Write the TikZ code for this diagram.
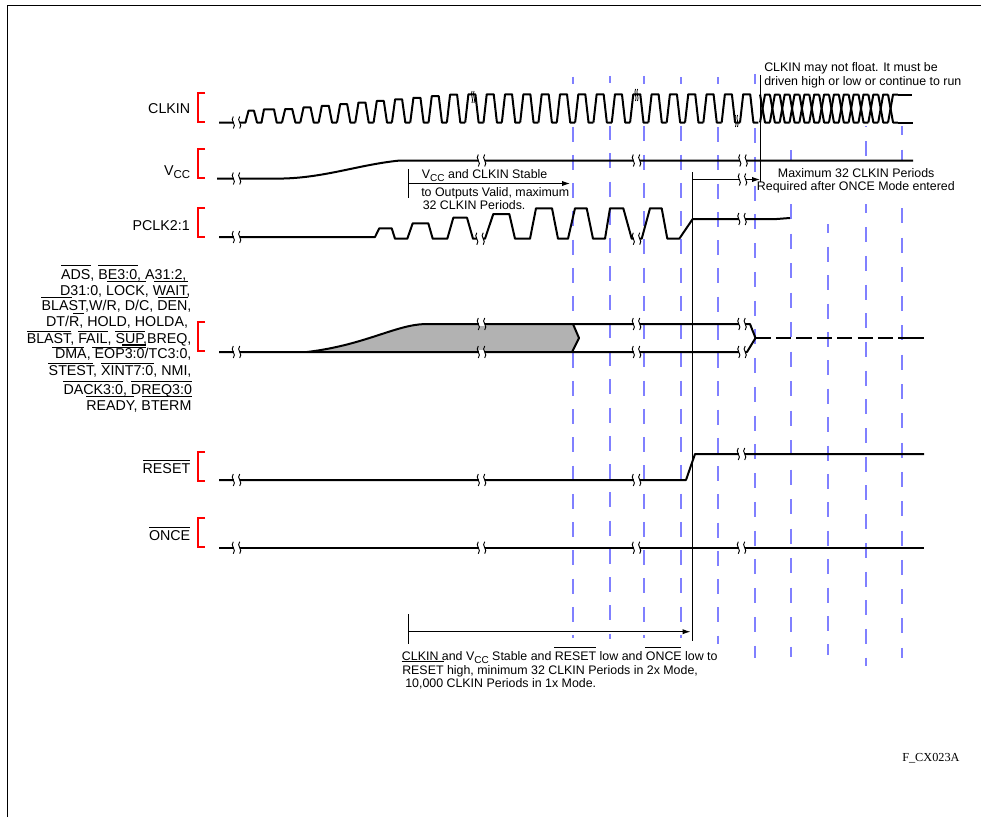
\documentclass[tikz,border=0pt]{standalone}
\usepackage{fontspec}
\usetikzlibrary{arrows.meta}
\setmainfont{Liberation Sans}
\newfontfamily\figfont{Liberation Serif}
\definecolor{gridblue}{RGB}{128,128,255}
\definecolor{busgray}{RGB}{178,178,178}
\newcommand{\tbreak}[2]{
    \fill[white] (#1-3,#2-2) rectangle (#1+3,#2+2);
    \draw[line width=.7pt] (#1-3.2,#2-6) .. controls (#1-7,#2-2) and (#1+.6,#2+2) .. (#1-3.2,#2+6);
    \draw[line width=.7pt] (#1+3.2,#2-6) .. controls (#1-.6,#2-2) and (#1+7,#2+2) .. (#1+3.2,#2+6);
}
\newcommand{\wbreak}[2]{
    \draw[line width=.6pt] (#1-1,#2-6) .. controls (#1-3,#2-2) and (#1+1,#2+2) .. (#1-1,#2+6);
    \draw[line width=.6pt] (#1+1,#2-6) .. controls (#1-1,#2-2) and (#1+3,#2+2) .. (#1+1,#2+6);
}
\begin{document}
\begin{tikzpicture}[x=.75pt,y=-.75pt]
\tikzstyle{trace}=[line width=1.5pt,line join=round]
\tikzstyle{hairline}=[line width=.75pt]
\tikzstyle{tip}=[-{Latex[length=6pt,width=4pt]}]
\tikzstyle{brack}=[red,line width=1.3pt]
\tikzstyle{sig}=[anchor=base east,inner sep=0pt,font=\fontsize{10.7}{12}\selectfont]
\tikzstyle{note}=[anchor=base west,inner sep=0pt,font=\fontsize{9.3}{11}\selectfont]
    \useasboundingbox (0,0) rectangle (981,817);
    \draw[line width=.75pt] (7.5,817) -- (7.5,5.5) -- (981,5.5);

    \foreach \xx/\ya/\yb/\yr/\per in {572.7/76.7/638/126.7/28.25,610/76/639/125/28.25,644/76/638/126.3/28.25,681/77.3/638/126.3/28.25,718/77.3/644/127/28.25,755/74/657.7/128/28.75,790.7/150/656.7/204/29.5,827.7/224/655/246.7/28.4,866/126/666/141/28.7,902/126/658/120.3/29.3}{
        \pgfmathsetmacro\ph{0.75*Mod(\ya-\yr,\per)}
        \pgfmathsetmacro\gp{0.75*(\per-15)}
        \draw[gridblue,line width=1.25pt,dash pattern=on 11.25pt off \gp pt,dash phase=\ph pt] (\xx,\ya) -- (\xx,\yb);
    }
    \fill[white] (216,84) rectangle (915,126);
    \fill[white] (760,161) rectangle (960,204);

    \foreach \yb in {122,178.3,237,350.7,481,547}{
        \draw[brack] (205,\yb-29) -- (198,\yb-29) -- (198,\yb) -- (205,\yb);
    }

    \node[sig] (clkin) at (190.5,113.3) {CLKIN};
    \node[sig] (vcc) at (190.5,175) {V\raisebox{-.25em}{\fontsize{8.6}{10}\selectfont CC}};
    \node[sig] (pclk) at (190,230) {PCLK2:1};
    \node[sig] (reset) at (190.5,473) {RESET};
    \node[sig] (once) at (190.5,540) {ONCE};
    \foreach \xe/\yy/\txt in {186.7/279/{ADS, BE3:0, A31:2,},190.7/295.3/{D31:0, LOCK, WAIT,},191.7/310.7/{BLAST,W/R, D/C, DEN,},188.3/326.7/{DT/R, HOLD, HOLDA,},191.7/343.3/{BLAST, FAIL, SUP,BREQ,},191.7/358.3/{DMA, EOP3:0/TC3:0,},191.7/375.7/{STEST, XINT7:0, NMI,},192.3/394.3/{DACK3:0, DREQ3:0},191.7/410/{READY, BTERM}}{
        \node[sig,name=bus\yy] at (\xe,\yy) {\txt};
    }
    \foreach \xa/\xb/\yy in {61/91/265,98/138/265,107/146/281,154/188/281,41/72/297.3,158/188/297.3,73/84/313.3,27/71/331,78/108/331,115/145/331,52/84/347,92/146/347,48/93/363,101/154/363,63/123/381,131/192/381,86/134/396.7,142/192/396.7,143/190/460.5,149/190/527,554/596/647.7,645/681/647.7,401.7/444/661.3}{
        \draw[line width=.6pt] (\xa,\yy) -- (\xb,\yy);
    }
    \draw[line width=1pt] (122,345) -- (146,345);

    \draw[trace] (219,122.5) -- (245.5,122.5) -- (248.5,110.7) -- (254,110.7) -- (257,122.5) -- (261.5,122.5) -- (264,109.3) -- (274,109.3) -- (276.7,122.5) -- (282,122.5);
    \foreach \k in {0,...,25}{
        \pgfmathsetmacro\r{282+18.32*\k}
        \pgfmathsetmacro\yt{max(94.3,109-(\r-282)*0.0875)}
        \draw[trace] (\r,122.5) -- (\r+3.2,\yt) -- (\r+10.2,\yt) -- (\r+13.4,122.5) -- (\r+18.32,122.5);
    }
    \foreach \k in {0,...,13}{
        \pgfmathsetmacro\r{760+9.85*\k}
        \draw[trace] (\r,94.5) -- (\r+5,122.5) -- (\r+9.85,122.5);
        \draw[trace] (\r,122.5) -- (\r+5,94.5) -- (\r+9.85,94.5);
    }
    \draw[trace] (898,94.5) -- (912,94.5);
    \draw[trace] (898,122.5) -- (913,122.5);
    \tbreak{236.5}{122.5}
    \wbreak{473}{97}
    \wbreak{636.5}{95}
    \wbreak{736.5}{121}

    \draw[trace] (217,178.5) -- (270,178.5) .. controls (320,180) and (355,165) .. (400,160.5) -- (913,160.5);
    \tbreak{236.5}{178.5}
    \tbreak{481.5}{160.5}
    \tbreak{636.5}{160.5}
    \tbreak{743}{160.5}

    \draw[trace] (219,237) -- (375,237) -- (379.3,228.3) -- (391.7,228.3) -- (395,238.7) -- (407.3,238.7) -- (412.7,223.3) -- (428.3,223.3) -- (432.7,238.7) -- (447.3,238.7) -- (453.3,217.7) -- (467,217.7) -- (473,238.7) -- (485,238.7) -- (493.3,214) -- (509.3,214) -- (515,238.7) -- (530,238.7) -- (536,208.3) -- (552,208.3) -- (558,238.7) -- (568,238.7) -- (575,208.3) -- (586.7,208.3) -- (593,238.7) -- (605,238.7) -- (610,208.3) -- (623.3,208.3) -- (631.7,238.7) -- (641.7,238.7) -- (650,208.3) -- (661.7,208.3) -- (667.3,238.7) -- (679.3,238.7) -- (692.7,219) -- (776.7,219) -- (790,218);
    \tbreak{236.5}{237}
    \tbreak{480}{238.7}
    \tbreak{636.5}{238.7}
    \tbreak{742}{219}

    \fill[busgray] (307,352) .. controls (365,345) and (395,325) .. (425,324) -- (573,324) -- (579,338) -- (572,352) -- cycle;
    \draw[trace] (219,352) -- (747,352) -- (755.5,338) -- (750,324) -- (425,324) .. controls (395,325) and (365,345) .. (307,352);
    \draw[trace] (573,324) -- (579,338) -- (572,352);
    \draw[trace,dash pattern=on 11.5pt off 3.8pt] (755.5,337.8) -- (902,337.8);
    \draw[trace] (902,337.8) -- (924,337.8);
    \tbreak{236.5}{352}
    \tbreak{481.5}{324}
    \tbreak{481.5}{352}
    \tbreak{636.5}{324}
    \tbreak{636.5}{352}
    \tbreak{742}{324}
    \tbreak{742}{352}

    \draw[trace] (219,480) -- (686,480) -- (695,454) -- (924,454);
    \tbreak{236.5}{480}
    \tbreak{481.5}{480}
    \tbreak{636.5}{480}
    \tbreak{741.5}{454}

    \draw[trace] (219,547.7) -- (924,547.7);
    \tbreak{236.5}{547.7}
    \tbreak{481.5}{547.7}
    \tbreak{636.5}{547.7}
    \tbreak{741.5}{547.7}

    \coordinate (stabletop) at (408.5,169);
    \coordinate (stablebot) at (408.5,198);
    \coordinate (stablemid) at (408.5,183.5);
    \coordinate (validend) at (570,183.5);
    \coordinate (floattop) at (760.5,75);
    \coordinate (floatbot) at (760.5,181.7);
    \coordinate (oncetop) at (692.5,172);
    \coordinate (oncebot) at (692.5,640.7);
    \coordinate (oncemid) at (692.5,179.5);
    \coordinate (onceend) at (760,179.5);
    \coordinate (mintop) at (408.3,614);
    \coordinate (minbot) at (408.3,643.7);
    \coordinate (minmid) at (408.3,631.7);
    \coordinate (minend) at (690.5,631.7);
    \draw[hairline] (stabletop) -- (stablebot);
    \draw[hairline,tip] (stablemid) -- (validend);
    \draw[hairline] (floattop) -- (floatbot);
    \draw[hairline] (oncetop) -- (oncebot);
    \draw[hairline,tip] (oncemid) -- (onceend);
    \tbreak{742.5}{179.5}
    \draw[hairline] (mintop) -- (minbot);
    \draw[hairline,tip] (minmid) -- (minend);

    \node[note] (stable) at (421.7,178) {V\raisebox{-.25em}{\fontsize{7.5}{9}\selectfont CC} and CLKIN Stable};
    \node[note] (valid) at (421,196.7) {to Outputs Valid, maximum};
    \node[note] (periods) at (422.5,209) {32 CLKIN Periods.};
    \node[note] (float) at (764,71.7) {CLKIN may not float. It must be};
    \node[note] (run) at (764,85.7) {driven high or low or continue to run};
    \node[note] (maxp) at (777.7,177.3) {Maximum 32 CLKIN Periods};
    \node[note] (req) at (756.7,190.7) {Required after ONCE Mode entered};
    \node[note] (minone) at (401.7,660) {CLKIN and V\raisebox{-.25em}{\fontsize{7.5}{9}\selectfont CC} Stable and RESET low and ONCE low to};
    \node[note] (mintwo) at (402,674) {RESET high, minimum 32 CLKIN Periods in 2x Mode,};
    \node[note] (minthree) at (405,687.3) {10,000 CLKIN Periods in 1x Mode.};
    \node[note,font=\figfont\fontsize{9.2}{11}\selectfont] (figid) at (902,761.7) {F\_CX023A};
  \end{tikzpicture}
\end{document}
